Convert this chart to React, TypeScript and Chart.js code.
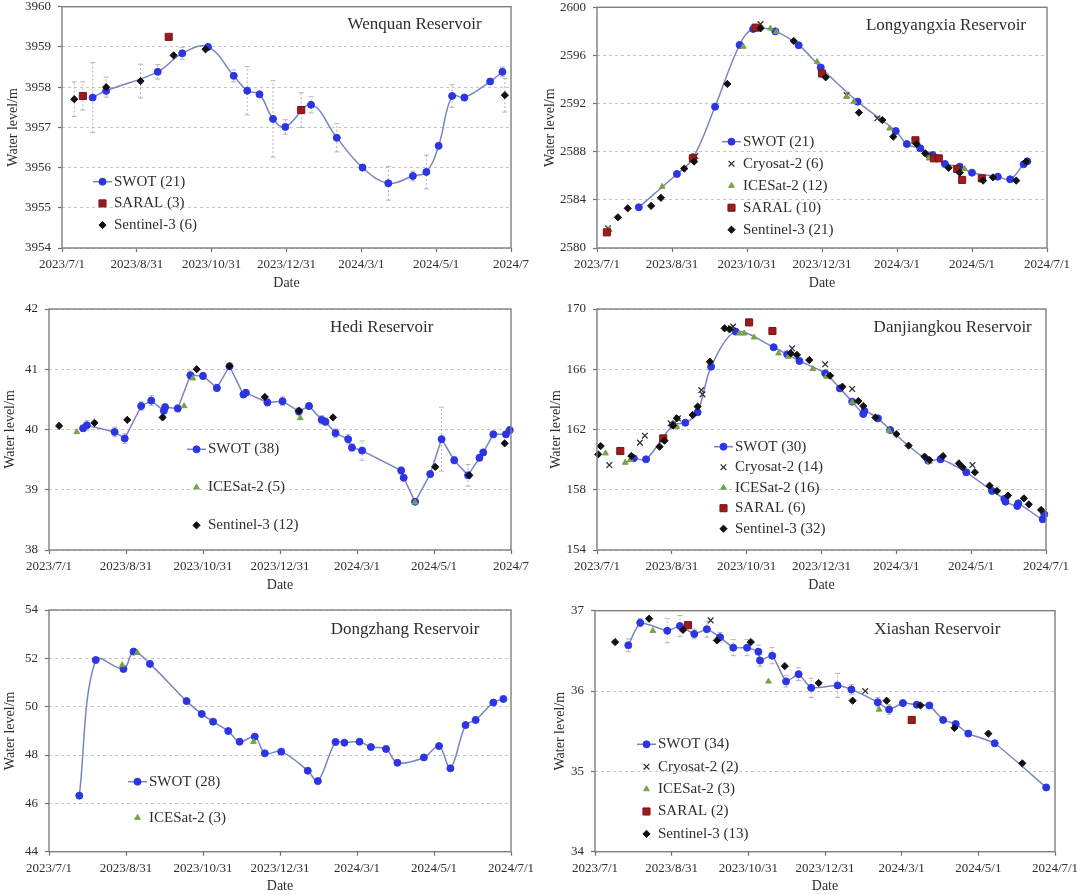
import React, { useEffect, useRef } from 'react';
import { Chart, registerables } from 'chart.js';
import { drawPoint } from 'chart.js/helpers';

Chart.register(...registerables);

// ---------- axis ticks (x = days since 2023/7/1) ----------
const X_TICK_DAYS = [0, 61, 122, 183, 244, 305, 366];
const X_TICK_LABELS = ['2023/7/1', '2023/8/31', '2023/10/31', '2023/12/31', '2024/3/1', '2024/5/1', '2024/7/1'];
const X_TICK_LABELS_CROPPED = ['2023/7/1', '2023/8/31', '2023/10/31', '2023/12/31', '2024/3/1', '2024/5/1', '2024/7'];

// ---------- Wenquan ----------
const WENQUAN_SWOT_DAY = [25, 36, 78, 98, 119, 140, 151, 161, 172, 182, 203, 224, 245, 266, 286, 297, 307, 318, 328, 349, 359];
const WENQUAN_SWOT_LEVEL = [3957.74, 3957.91, 3958.38, 3958.84, 3959.0, 3958.28, 3957.91, 3957.82, 3957.21, 3957.01, 3957.56, 3956.74, 3956.0, 3955.61, 3955.79, 3955.89, 3956.54, 3957.78, 3957.74, 3958.14, 3958.38];
const WENQUAN_SWOT_ERR = [0.87, 0.1, 0.18, 0.15, 0.05, 0.15, 0.6, 0.08, 0.95, 0.18, 0.2, 0.35, 0.08, 0.42, 0.12, 0.42, 0.05, 0.28, 0.08, 0.05, 0.12];
const WENQUAN_SARAL_DAY = [17, 87, 195];
const WENQUAN_SARAL_LEVEL = [3957.78, 3959.25, 3957.43];
const WENQUAN_SARAL_ERR = [0.35, 0, 0.43];
const WENQUAN_S3_DAY = [10, 36, 64, 91, 117, 361];
const WENQUAN_S3_LEVEL = [3957.7, 3958.0, 3958.15, 3958.79, 3958.94, 3957.8];
const WENQUAN_S3_ERR = [0.43, 0.25, 0.42, 0, 0, 0.42];

// ---------- Longyangxia ----------
const LONGYANGXIA_SWOT_DAY = [34, 65, 78, 96, 116, 127, 145, 164, 182, 212, 243, 252, 263, 273, 283, 295, 305, 326, 336, 347, 350];
const LONGYANGXIA_SWOT_LEVEL = [2583.38, 2586.15, 2587.45, 2591.74, 2596.87, 2598.2, 2598.0, 2596.85, 2595.0, 2592.16, 2589.72, 2588.64, 2588.28, 2587.73, 2586.98, 2586.76, 2586.26, 2585.93, 2585.71, 2586.96, 2587.2];
const LONGYANGXIA_CS2_DAY = [9, 80, 133, 203, 228, 270];
const LONGYANGXIA_CS2_LEVEL = [2581.64, 2587.64, 2598.61, 2592.71, 2590.78, 2587.73];
const LONGYANGXIA_IS2_DAY = [10, 53, 77, 119, 141, 146, 179, 203, 209, 238, 270, 299];
const LONGYANGXIA_IS2_LEVEL = [2581.5, 2585.1, 2587.6, 2596.73, 2598.25, 2597.97, 2595.48, 2592.57, 2592.16, 2589.94, 2587.45, 2586.57];
const LONGYANGXIA_SARAL_DAY = [8, 78, 129, 183, 259, 274, 278, 293, 297, 313];
const LONGYANGXIA_SARAL_LEVEL = [2581.3, 2587.45, 2598.31, 2594.5, 2588.95, 2587.45, 2587.45, 2586.57, 2585.66, 2585.79];
const LONGYANGXIA_S3_DAY = [17, 25, 44, 52, 71, 79, 106, 133, 160, 186, 213, 232, 241, 260, 267, 286, 295, 314, 322, 341, 349];
const LONGYANGXIA_S3_LEVEL = [2582.55, 2583.3, 2583.5, 2584.17, 2586.6, 2587.18, 2593.63, 2598.25, 2597.2, 2594.18, 2591.25, 2590.63, 2589.25, 2588.64, 2587.86, 2586.66, 2586.26, 2585.6, 2585.87, 2585.6, 2587.18];

// ---------- Hedi ----------
const HEDI_SWOT_DAY = [27, 30, 52, 60, 73, 81, 91, 92, 102, 112, 122, 133, 143, 154, 156, 173, 185, 198, 206, 216, 219, 227, 237, 240, 248, 279, 281, 290, 302, 311, 321, 332, 341, 344, 352, 362, 365];
const HEDI_SWOT_LEVEL = [40.02, 40.07, 39.96, 39.85, 40.39, 40.48, 40.31, 40.37, 40.35, 40.9, 40.89, 40.69, 41.05, 40.58, 40.61, 40.45, 40.47, 40.3, 40.39, 40.16, 40.13, 39.94, 39.84, 39.7, 39.65, 39.32, 39.2, 38.8, 39.26, 39.84, 39.49, 39.24, 39.53, 39.62, 39.92, 39.92, 39.99];
const HEDI_SWOT_ERR = [0.05, 0.08, 0.08, 0.08, 0.07, 0.08, 0.08, 0.06, 0.06, 0.07, 0.06, 0.06, 0.05, 0.05, 0.05, 0.06, 0.07, 0.06, 0.05, 0.07, 0.06, 0.07, 0.08, 0.06, 0.16, 0.06, 0.05, 0.04, 0.05, 0.53, 0.06, 0.18, 0.05, 0.05, 0.05, 0.05, 0.05];
const HEDI_IS2_DAY = [22, 107, 114, 199, 290];
const HEDI_IS2_LEVEL = [39.96, 40.39, 40.85, 40.19, 38.79];
const HEDI_S3_DAY = [8, 36, 62, 90, 117, 143, 171, 198, 225, 306, 333, 361];
const HEDI_S3_LEVEL = [40.06, 40.11, 40.16, 40.2, 41.0, 41.05, 40.54, 40.31, 40.2, 39.38, 39.24, 39.77];

// ---------- Danjiangkou ----------
const DANJIANGKOU_SWOT_DAY = [30, 40, 62, 72, 82, 93, 113, 144, 155, 165, 186, 198, 208, 217, 218, 229, 239, 270, 280, 301, 322, 332, 333, 342.6, 343.4, 363.3, 364.6];
const DANJIANGKOU_SWOT_LEVEL = [160.09, 160.02, 162.3, 162.45, 163.14, 166.17, 168.5, 167.46, 166.99, 166.55, 165.73, 164.73, 163.85, 163.03, 163.23, 162.74, 161.97, 159.93, 160.02, 159.16, 157.92, 157.39, 157.21, 156.92, 157.1, 156.04, 156.37];
const DANJIANGKOU_CS2_DAY = [10, 35, 39, 60, 66, 85, 86, 109, 111, 159, 186, 208, 306];
const DANJIANGKOU_CS2_LEVEL = [159.64, 161.13, 161.59, 162.41, 162.74, 164.62, 164.33, 168.72, 168.83, 167.39, 166.33, 164.69, 159.64];
const DANJIANGKOU_IS2_DAY = [7, 23, 27, 65, 116, 120, 128, 148, 156, 176, 187, 208, 238, 271];
const DANJIANGKOU_IS2_LEVEL = [160.42, 159.8, 159.98, 162.19, 168.38, 168.38, 168.12, 167.06, 166.84, 166.02, 165.51, 163.8, 161.92, 159.87];
const DANJIANGKOU_SARAL_DAY = [19, 54, 124, 143];
const DANJIANGKOU_SARAL_LEVEL = [160.57, 161.41, 169.11, 168.54];
const DANJIANGKOU_S3_DAY = [1, 3, 28, 51, 55, 62, 65, 78, 82, 92, 104, 108, 158, 163, 173, 190, 200, 213, 217, 227, 244, 254, 267, 271, 282, 295, 298, 308, 320, 326, 335, 348, 352, 362];
const DANJIANGKOU_S3_LEVEL = [160.35, 160.9, 160.24, 160.86, 161.26, 162.26, 162.74, 162.96, 163.52, 166.5, 168.72, 168.65, 167.06, 166.95, 166.61, 165.57, 164.84, 163.89, 163.56, 162.79, 161.7, 160.93, 160.2, 159.98, 160.24, 159.75, 159.49, 159.16, 158.27, 157.92, 157.61, 157.43, 157.03, 156.66];

// ---------- Dongzhang ----------
const DONGZHANG_SWOT_DAY = [24, 37, 59, 67, 80, 109, 121, 130, 142, 151, 163, 171, 184, 205, 213, 227, 234, 246, 255, 267, 276, 297, 309, 318, 330, 338, 352, 360];
const DONGZHANG_SWOT_LEVEL = [46.32, 51.93, 51.56, 52.28, 51.77, 50.23, 49.7, 49.38, 48.99, 48.55, 48.76, 48.07, 48.14, 47.35, 46.92, 48.54, 48.51, 48.55, 48.33, 48.25, 47.68, 47.9, 48.37, 47.45, 49.24, 49.45, 50.17, 50.32];
const DONGZHANG_IS2_DAY = [58, 70, 162];
const DONGZHANG_IS2_LEVEL = [51.72, 52.23, 48.55];

// ---------- Xiashan ----------
const XIASHAN_SWOT_DAY = [26.5, 36, 57.5, 67.6, 79, 89, 99.5, 110, 121, 130, 131.3, 141, 152, 162, 172, 193, 204, 225, 234, 245, 256, 266, 277, 287, 297, 318, 359];
const XIASHAN_SWOT_LEVEL = [36.57, 36.85, 36.75, 36.81, 36.71, 36.77, 36.67, 36.54, 36.54, 36.49, 36.38, 36.44, 36.12, 36.21, 36.04, 36.07, 36.02, 35.86, 35.77, 35.85, 35.83, 35.82, 35.64, 35.59, 35.47, 35.35, 34.8];
const XIASHAN_SWOT_ERR = [0.08, 0.05, 0.15, 0.13, 0.06, 0.1, 0.06, 0.1, 0.1, 0.08, 0.07, 0.1, 0.07, 0.08, 0.12, 0.15, 0.06, 0.06, 0.06, 0.03, 0.03, 0.03, 0.03, 0.03, 0.03, 0.03, 0.03];
const XIASHAN_CS2_DAY = [92, 215];
const XIASHAN_CS2_LEVEL = [36.88, 36.0];
const XIASHAN_IS2_DAY = [46, 138, 226];
const XIASHAN_IS2_LEVEL = [36.75, 36.12, 35.77];
const XIASHAN_SARAL_DAY = [74, 252];
const XIASHAN_SARAL_LEVEL = [36.82, 35.64];
const XIASHAN_S3_DAY = [16, 43, 70, 97, 124, 151, 178, 205, 232, 259, 286, 313, 340];
const XIASHAN_S3_LEVEL = [36.61, 36.9, 36.76, 36.63, 36.61, 36.31, 36.1, 35.88, 35.88, 35.82, 35.54, 35.47, 35.1];

// ---------- styles ----------
const FONT = '"Liberation Serif", "Times New Roman", serif';
const TEXT = '#2e2e2e';

type Kind = 'SWOT' | 'CS2' | 'IS2' | 'SARAL' | 'S3';
const SERIES_STYLE: Record<Kind, any> = {
  SWOT: { pointStyle: 'circle', radius: 3.5, bg: '#2b35e4', border: '#2b35e4', bw: 1, line: '#7c83c3', order: 4 },
  CS2: { pointStyle: 'crossRot', radius: 4, bg: '#333333', border: '#333333', bw: 1.3, order: 3 },
  IS2: { pointStyle: 'triangle', radius: 3.3, bg: '#76a348', border: '#76a348', bw: 1, order: 2 },
  SARAL: { pointStyle: 'rect', radius: 5, bg: '#9b1c1c', border: '#7d1212', bw: 1, order: 1 },
  S3: { pointStyle: 'rectRot', radius: 3.6, bg: '#111111', border: '#111111', bw: 1, order: 0 },
};

function series(kind: Kind, label: string, days: number[], levels: number[], errs?: number[], tension = 0) {
  const st = SERIES_STYLE[kind];
  return {
    label,
    data: days.map((d, i) => ({ x: d, y: levels[i] })),
    showLine: kind === 'SWOT',
    borderColor: st.line || st.border,
    borderWidth: 1.5,
    backgroundColor: st.bg,
    pointStyle: st.pointStyle,
    pointRadius: st.radius,
    pointHoverRadius: st.radius,
    pointBackgroundColor: st.bg,
    pointBorderColor: st.border,
    pointBorderWidth: st.bw,
    order: st.order,
    tension,
    clip: false,
    errors: errs,
  };
}

const PANELS = [
  {
    name: 'Wenquan Reservoir',
    yMin: 3954, yMax: 3960, yStep: 1, xLabels: X_TICK_LABELS_CROPPED,
    box: { left: 0, top: 0, width: 540, height: 295 },
    padTop: 6.7, padRight: 29, yW: 62, xH: 47, yTitlePad: 4.9, xTitlePad: 3.6,
    title: { x: 414.5, y: 25 }, legend: { x: 93, y: 181.7, dy: 21.7 },
    datasets: [
      series('SWOT', 'SWOT (21)', WENQUAN_SWOT_DAY, WENQUAN_SWOT_LEVEL, WENQUAN_SWOT_ERR, 0.4),
      series('SARAL', 'SARAL (3)', WENQUAN_SARAL_DAY, WENQUAN_SARAL_LEVEL, WENQUAN_SARAL_ERR),
      series('S3', 'Sentinel-3 (6)', WENQUAN_S3_DAY, WENQUAN_S3_LEVEL, WENQUAN_S3_ERR),
    ],
  },
  {
    name: 'Longyangxia Reservoir',
    yMin: 2580, yMax: 2600, yStep: 4, xLabels: X_TICK_LABELS,
    box: { left: 540, top: 0, width: 540, height: 295 },
    padTop: 7.3, padRight: 33, yW: 57, xH: 47, yTitlePad: 1.6, xTitlePad: 3.3,
    title: { x: 406, y: 26 }, legend: { x: 182, y: 141.7, dy: 22 },
    datasets: [
      series('SWOT', 'SWOT (21)', LONGYANGXIA_SWOT_DAY, LONGYANGXIA_SWOT_LEVEL, undefined, 0.4),
      series('CS2', 'Cryosat-2 (6)', LONGYANGXIA_CS2_DAY, LONGYANGXIA_CS2_LEVEL),
      series('IS2', 'ICESat-2 (12)', LONGYANGXIA_IS2_DAY, LONGYANGXIA_IS2_LEVEL),
      series('SARAL', 'SARAL (10)', LONGYANGXIA_SARAL_DAY, LONGYANGXIA_SARAL_LEVEL),
      series('S3', 'Sentinel-3 (21)', LONGYANGXIA_S3_DAY, LONGYANGXIA_S3_LEVEL),
    ],
  },
  {
    name: 'Hedi Reservoir',
    yMin: 38, yMax: 42, yStep: 1, xLabels: X_TICK_LABELS_CROPPED,
    box: { left: 0, top: 295, width: 540, height: 300 },
    padTop: 14, padRight: 29, yW: 49, xH: 45, yTitlePad: 1.6, xTitlePad: 1.6,
    title: { x: 381.7, y: 32.3 }, legend: { x: 187, y: 154.3, dy: 38 },
    datasets: [
      series('SWOT', 'SWOT (38)', HEDI_SWOT_DAY, HEDI_SWOT_LEVEL, HEDI_SWOT_ERR, 0),
      series('IS2', 'ICESat-2 (5)', HEDI_IS2_DAY, HEDI_IS2_LEVEL),
      series('S3', 'Sentinel-3 (12)', HEDI_S3_DAY, HEDI_S3_LEVEL),
    ],
  },
  {
    name: 'Danjiangkou Reservoir',
    yMin: 154, yMax: 170, yStep: 4, xLabels: X_TICK_LABELS,
    box: { left: 540, top: 295, width: 540, height: 300 },
    padTop: 14, padRight: 34, yW: 57, xH: 45, yTitlePad: 8.3, xTitlePad: 1.6,
    title: { x: 412.7, y: 32.3 }, legend: { x: 174, y: 151.7, dy: 20.5 },
    datasets: [
      series('SWOT', 'SWOT (30)', DANJIANGKOU_SWOT_DAY, DANJIANGKOU_SWOT_LEVEL, undefined, 0.3),
      series('CS2', 'Cryosat-2 (14)', DANJIANGKOU_CS2_DAY, DANJIANGKOU_CS2_LEVEL),
      series('IS2', 'ICESat-2 (16)', DANJIANGKOU_IS2_DAY, DANJIANGKOU_IS2_LEVEL),
      series('SARAL', 'SARAL (6)', DANJIANGKOU_SARAL_DAY, DANJIANGKOU_SARAL_LEVEL),
      series('S3', 'Sentinel-3 (32)', DANJIANGKOU_S3_DAY, DANJIANGKOU_S3_LEVEL),
    ],
  },
  {
    name: 'Dongzhang Reservoir',
    yMin: 44, yMax: 54, yStep: 2, xLabels: X_TICK_LABELS,
    box: { left: 0, top: 595, width: 540, height: 300 },
    padTop: 15, padRight: 29, yW: 49, xH: 43.3, yTitlePad: 1.6, xTitlePad: 0,
    title: { x: 405, y: 34.3 }, legend: { x: 128, y: 186.7, dy: 36 },
    datasets: [
      series('SWOT', 'SWOT (28)', DONGZHANG_SWOT_DAY, DONGZHANG_SWOT_LEVEL, undefined, 0.35),
      series('IS2', 'ICESat-2 (3)', DONGZHANG_IS2_DAY, DONGZHANG_IS2_LEVEL),
    ],
  },
  {
    name: 'Xiashan Reservoir',
    yMin: 34, yMax: 37, yStep: 1, xLabels: X_TICK_LABELS,
    box: { left: 540, top: 595, width: 540, height: 300 },
    padTop: 15.7, padRight: 25, yW: 55, xH: 43.3, yTitlePad: 11.6, xTitlePad: 0,
    title: { x: 397.3, y: 34.3 }, legend: { x: 97, y: 149.3, dy: 22.4 },
    datasets: [
      series('SWOT', 'SWOT (34)', XIASHAN_SWOT_DAY, XIASHAN_SWOT_LEVEL, XIASHAN_SWOT_ERR, 0.15),
      series('CS2', 'Cryosat-2 (2)', XIASHAN_CS2_DAY, XIASHAN_CS2_LEVEL),
      series('IS2', 'ICESat-2 (3)', XIASHAN_IS2_DAY, XIASHAN_IS2_LEVEL),
      series('SARAL', 'SARAL (2)', XIASHAN_SARAL_DAY, XIASHAN_SARAL_LEVEL),
      series('S3', 'Sentinel-3 (13)', XIASHAN_S3_DAY, XIASHAN_S3_LEVEL),
    ],
  },
];

function makePlugin(cfg: any) {
  return {
    id: 'panelDecor',
    beforeDatasetsDraw(chart: any) {
      const ctx = chart.ctx;
      const xs = chart.scales.x;
      const ys = chart.scales.y;
      ctx.save();
      chart.data.datasets.forEach((ds: any) => {
        if (!ds.errors) return;
        ds.data.forEach((pt: any, i: number) => {
          const e = ds.errors[i];
          if (!e) return;
          const x = xs.getPixelForValue(pt.x);
          const y1 = ys.getPixelForValue(pt.y - e);
          const y2 = ys.getPixelForValue(pt.y + e);
          ctx.strokeStyle = '#b4b4b4';
          ctx.lineWidth = 1;
          ctx.setLineDash([2, 2]);
          ctx.beginPath();
          ctx.moveTo(x, y1);
          ctx.lineTo(x, y2);
          ctx.stroke();
          ctx.setLineDash([]);
          ctx.beginPath();
          ctx.moveTo(x - 2.5, y1);
          ctx.lineTo(x + 2.5, y1);
          ctx.moveTo(x - 2.5, y2);
          ctx.lineTo(x + 2.5, y2);
          ctx.stroke();
        });
      });
      ctx.restore();
    },
    afterDraw(chart: any) {
      const ctx = chart.ctx;
      const a = chart.chartArea;
      ctx.save();
      // frame
      ctx.strokeStyle = '#7f7f7f';
      ctx.lineWidth = 1.4;
      ctx.setLineDash([]);
      ctx.strokeRect(a.left, a.top, a.right - a.left, a.bottom - a.top);
      // panel title
      ctx.fillStyle = TEXT;
      ctx.font = `17px ${FONT}`;
      ctx.textAlign = 'center';
      ctx.textBaseline = 'middle';
      ctx.fillText(cfg.name, cfg.title.x, cfg.title.y);
      // legend
      const lg = cfg.legend;
      chart.data.datasets.forEach((ds: any, i: number) => {
        const y = lg.y + i * lg.dy;
        if (ds.showLine) {
          ctx.strokeStyle = ds.borderColor;
          ctx.lineWidth = ds.borderWidth;
          ctx.beginPath();
          ctx.moveTo(lg.x, y);
          ctx.lineTo(lg.x + 19, y);
          ctx.stroke();
        }
        ctx.fillStyle = ds.pointBackgroundColor;
        ctx.strokeStyle = ds.pointBorderColor;
        ctx.lineWidth = ds.pointBorderWidth;
        drawPoint(ctx, { pointStyle: ds.pointStyle, radius: ds.pointRadius, borderWidth: ds.pointBorderWidth, rotation: 0 } as any, lg.x + 9.5, y);
        ctx.fillStyle = TEXT;
        ctx.font = `15px ${FONT}`;
        ctx.textAlign = 'left';
        ctx.textBaseline = 'middle';
        ctx.fillText(ds.label, lg.x + 21, y);
      });
      ctx.restore();
    },
  };
}

function Panel({ cfg }: { cfg: any }) {
  const ref = useRef<HTMLCanvasElement | null>(null);
  useEffect(() => {
    if (!ref.current) return;
    const chart = new Chart(ref.current, {
      type: 'scatter',
      data: { datasets: cfg.datasets as any },
      options: {
        animation: false,
        responsive: false,
        events: [],
        layout: { padding: { top: cfg.padTop, right: cfg.padRight, left: 0, bottom: 0 } },
        plugins: { legend: { display: false }, tooltip: { enabled: false }, title: { display: false } },
        scales: {
          x: {
            type: 'linear',
            min: 0,
            max: 366,
            afterBuildTicks: (s: any) => {
              s.ticks = X_TICK_DAYS.map((v) => ({ value: v }));
            },
            afterFit: (s: any) => {
              s.height = cfg.xH;
              s.paddingLeft = 0;
              s.paddingRight = 0;
            },
            ticks: {
              autoSkip: false,
              maxRotation: 0,
              padding: 5,
              color: TEXT,
              font: { family: FONT, size: 13 },
              callback: (_v: any, i: number) => cfg.xLabels[i],
            },
            grid: { display: true, drawOnChartArea: false, drawTicks: true, tickLength: 4, tickColor: '#6f6f6f', tickWidth: 1.2 },
            border: { display: false },
            title: { display: true, text: 'Date', color: TEXT, font: { family: FONT, size: 14 }, padding: { top: 0, bottom: cfg.xTitlePad } },
          },
          y: {
            type: 'linear',
            min: cfg.yMin,
            max: cfg.yMax,
            afterFit: (s: any) => {
              s.width = cfg.yW;
              s.paddingTop = 0;
              s.paddingBottom = 0;
            },
            ticks: {
              stepSize: cfg.yStep,
              padding: 7,
              color: TEXT,
              font: { family: FONT, size: 13 },
              callback: (v: any) => String(v),
            },
            grid: { display: true, drawOnChartArea: true, color: '#c6c6c6', lineWidth: 1, drawTicks: true, tickLength: 4, tickColor: '#6f6f6f', tickWidth: 1.2, tickBorderDash: [] },
            border: { display: false, dash: [3, 3] },
            title: { display: true, text: 'Water level/m', color: TEXT, font: { family: FONT, size: 14 }, padding: { top: cfg.yTitlePad, bottom: 0 } },
          },
        },
      } as any,
      plugins: [makePlugin(cfg)],
    });
    return () => chart.destroy();
  }, []);
  const b = cfg.box;
  return (
    <canvas
      ref={ref}
      width={b.width}
      height={b.height}
      style={{ position: 'absolute', left: b.left, top: b.top, width: b.width, height: b.height }}
    />
  );
}

export default function App() {
  return (
    <div style={{ position: 'absolute', left: 0, top: 0, width: 1080, height: 895, background: '#ffffff', overflow: 'hidden' }}>
      {PANELS.map((p) => (
        <Panel key={p.name} cfg={p} />
      ))}
    </div>
  );
}
